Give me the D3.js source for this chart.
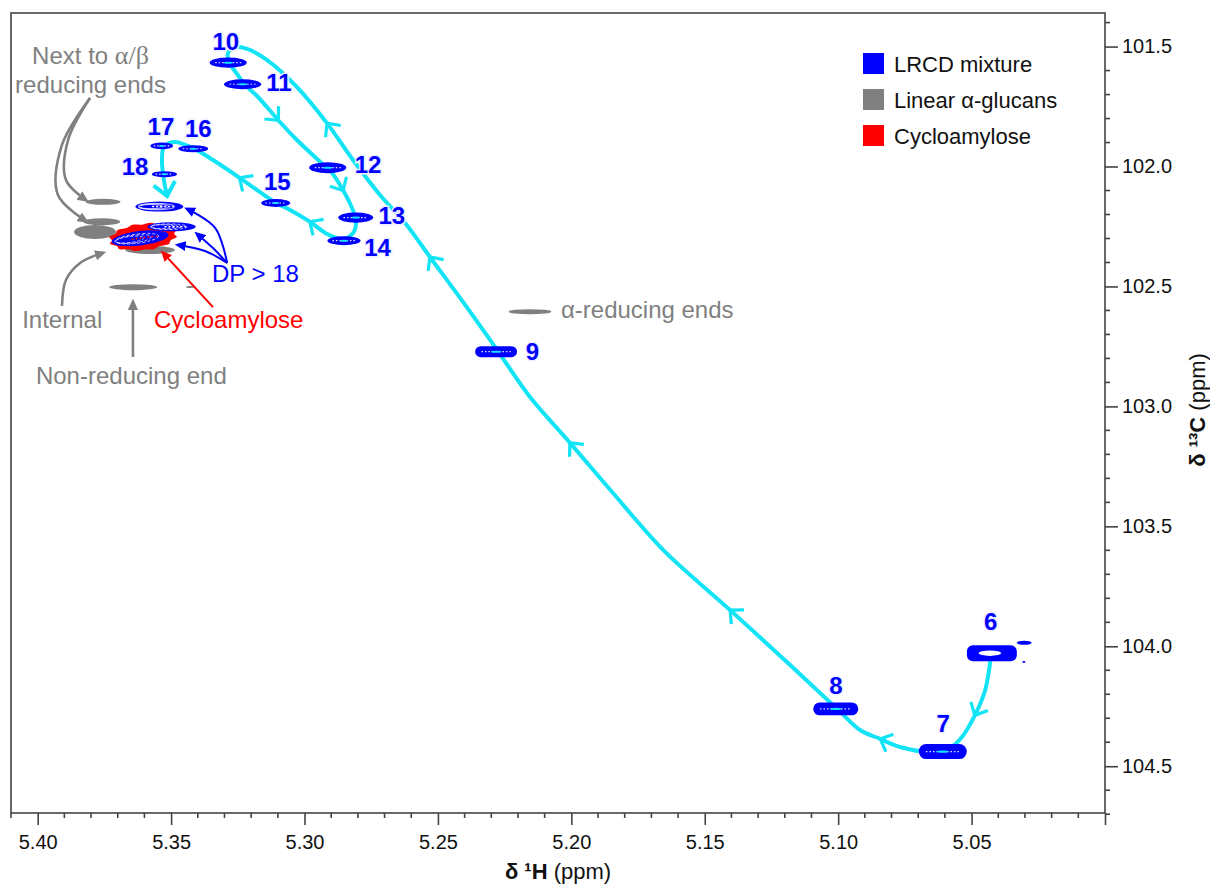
<!DOCTYPE html>
<html>
<head>
<meta charset="utf-8">
<script src="https://cdn.jsdelivr.net/npm/d3@7"></script>
<style>
  body { margin: 0; background: #fff; }
  svg { font-family: "Liberation Sans", Arial, sans-serif; }
</style>
</head>
<body>
<svg width="1210" height="884"></svg>
<script>
// ---- data (ppm) ----
var peakLabels = ["6", "7", "8", "9", "10", "11", "12", "13", "14", "15", "16", "17", "18"];
var peakH = [5.0424, 5.0608, 5.1009, 5.2282, 5.3286, 5.3232, 5.2913, 5.2808, 5.2852, 5.3108, 5.3417, 5.3535, 5.3525];
var peakC = [104.029, 104.439, 104.261, 102.772, 101.567, 101.657, 102.005, 102.213, 102.309, 102.152, 101.926, 101.914, 102.032];
var peakWidthH = [0.0187, 0.018, 0.0169, 0.0157, 0.0139, 0.0139, 0.0139, 0.0131, 0.0124, 0.0109, 0.0112, 0.0086, 0.0094];
var peakWidthC = [0.0667, 0.0625, 0.054, 0.046, 0.042, 0.042, 0.046, 0.042, 0.0375, 0.033, 0.029, 0.029, 0.025];
var labelH = [5.0428, 5.0606, 5.1008, 5.2146, 5.3295, 5.3096, 5.2762, 5.2673, 5.2726, 5.3102, 5.3398, 5.3538, 5.3635];
var labelC = [103.897, 104.321, 104.161, 102.772, 101.48, 101.648, 101.991, 102.202, 102.338, 102.06, 101.841, 101.834, 102.001];

// DP > 18 peaks
var dpH = [5.3544, 5.3498, 5.3616];
var dpC = [102.167, 102.251, 102.299];
var dpWidthH = [0.018, 0.018, 0.0215];
var dpWidthC = [0.042, 0.0375, 0.06];

// small extra peaks next to 6
var extraH = [5.0303, 5.0304];
var extraC = [103.985, 104.065];
var extraWidthH = [0.0056, 0.0012];
var extraWidthC = [0.017, 0.008];

// linear alpha-glucans
var glucanH = [5.3755, 5.376, 5.3785, 5.3579, 5.3642, 5.3429, 5.2155];
var glucanC = [102.147, 102.23, 102.273, 102.348, 102.503, 102.502, 102.605];
var glucanWidthH = [0.0131, 0.0139, 0.0157, 0.0187, 0.018, 0.003, 0.016];
var glucanWidthC = [0.025, 0.029, 0.058, 0.033, 0.025, 0.008, 0.021];

// cycloamylose
var cycloH = [5.3605];
var cycloC = [102.294];
var cycloWidthH = [0.026];
var cycloWidthC = [0.115];

// trajectory 6 -> 18 -> DP > 18
var trajectory = [
  [5.0427, 104.036], [5.0449, 104.182], [5.0487, 104.286], [5.0536, 104.378], [5.0581, 104.424],
  [5.0656, 104.44], [5.0768, 104.42], [5.0843, 104.386], [5.0918, 104.349], [5.1, 104.265],
  [5.118, 104.078], [5.1405, 103.849], [5.1656, 103.598], [5.1844, 103.361], [5.2005, 103.152],
  [5.2155, 102.961], [5.2278, 102.765], [5.2398, 102.577], [5.253, 102.377], [5.2623, 102.235],
  [5.2717, 102.119], [5.2818, 101.973], [5.2916, 101.819], [5.3028, 101.669], [5.314, 101.556],
  [5.3215, 101.51], [5.326, 101.502], [5.3287, 101.527], [5.3283, 101.564], [5.3253, 101.614],
  [5.3223, 101.66], [5.3178, 101.706], [5.3099, 101.806], [5.3036, 101.881], [5.2949, 101.973],
  [5.2897, 102.027], [5.2856, 102.098], [5.2822, 102.173], [5.2807, 102.227], [5.2818, 102.277],
  [5.2859, 102.302], [5.2916, 102.281], [5.2979, 102.231], [5.3054, 102.181], [5.3107, 102.152],
  [5.3178, 102.098], [5.3242, 102.048], [5.3343, 101.973], [5.3418, 101.923], [5.3489, 101.898],
  [5.3527, 101.919], [5.3534, 101.981], [5.3527, 102.056], [5.3515, 102.123]
];
var arrowH = [5.0487, 5.0843, 5.1405, 5.2005, 5.253, 5.2916, 5.3099, 5.2856, 5.2979, 5.3242];
var arrowC = [104.286, 104.386, 103.849, 103.152, 102.377, 101.819, 101.806, 102.098, 102.231, 102.048];

// annotation callouts
var annText = ["Internal", "Non-reducing end", "Cycloamylose", "DP > 18", "\u03b1-reducing ends"];
var annH = [5.3908, 5.3649, 5.3284, 5.3184, 5.2039];
var annC = [102.673, 102.907, 102.673, 102.48, 102.633];
var annKind = ["gray", "gray", "red", "blue", "gray"];
var annAnchor = ["middle", "middle", "middle", "middle", "start"];
var calloutKind = ["gray", "gray", "gray", "gray", "red", "blue", "blue", "blue"];
var callouts = [
  [[5.3804, 101.714], [5.3886, 101.889], [5.3894, 102.056], [5.3819, 102.14]],
  [[5.3804, 101.714], [5.3909, 101.91], [5.3924, 102.119], [5.3819, 102.227]],
  [[5.3909, 102.581], [5.3894, 102.473], [5.3841, 102.402], [5.3755, 102.36]],
  [[5.3643, 102.794], [5.3643, 102.565]],
  [[5.3343, 102.586], [5.353, 102.36]],
  [[5.329, 102.402], [5.3335, 102.256], [5.344, 102.177]],
  [[5.329, 102.402], [5.3343, 102.34], [5.3403, 102.281]],
  [[5.329, 102.402], [5.3373, 102.352], [5.3474, 102.327]]
];

var legendNames = ["LRCD mixture", "Linear \u03b1-glucans", "Cycloamylose"];
var legendColors = ["#0000ff", "#808080", "#ff0000"];

var xTicks = [5.40, 5.35, 5.30, 5.25, 5.20, 5.15, 5.10, 5.05, 5.00];
var yTicks = [101.5, 102.0, 102.5, 103.0, 103.5, 104.0, 104.5];

// ---- chart ----
var svg = d3.select("svg");
var frame = {left: 11, right: 1105, top: 13, bottom: 813};
var colors = {gray: "#808080", red: "#ff0000", blue: "#0000ff"};
var cyan = "#12e4f6";

var x = d3.scaleLinear().domain([5.41, 5.00]).range([frame.left, frame.right]);
var y = d3.scaleLinear().domain([101.36, 104.695]).range([frame.top, frame.bottom]);

var defs = svg.append("defs");
["gray", "red", "blue"].forEach(function(k) {
  defs.append("marker")
      .attr("id", "head-" + k)
      .attr("viewBox", "0 0 10 10")
      .attr("refX", 7).attr("refY", 5)
      .attr("markerWidth", k == "gray" ? 4.4 : 5.5)
      .attr("markerHeight", k == "gray" ? 4.4 : 5.5)
      .attr("orient", "auto")
    .append("path")
      .attr("d", "M0,0.5 L10,5 L0,9.5 z")
      .attr("fill", colors[k]);
});

// frame
svg.append("rect")
    .attr("x", frame.left).attr("y", frame.top)
    .attr("width", frame.right - frame.left).attr("height", frame.bottom - frame.top)
    .attr("fill", "none").attr("stroke", "#444").attr("stroke-width", 1.6);

// bottom axis
var gx = svg.append("g").attr("transform", "translate(0," + frame.bottom + ")");
gx.call(d3.axisBottom(x).tickValues(xTicks).tickSize(12).tickPadding(10)
    .tickFormat(function(d) { return d < 5.001 ? "" : d3.format(".2f")(d); }));
var xMinor = d3.range(0, 42).map(function(i) { return +(5.00 + i * 0.01).toFixed(2); })
    .filter(function(d, i) { return i % 5 != 0; });
gx.selectAll(".minor").data(xMinor).enter().append("line")
    .attr("class", "minor")
    .attr("x1", function(d) { return x(d); }).attr("x2", function(d) { return x(d); })
    .attr("y1", 0).attr("y2", 5);

// right axis
var gy = svg.append("g").attr("transform", "translate(" + frame.right + ",0)");
gy.call(d3.axisRight(y).tickValues(yTicks).tickSize(13).tickPadding(4).tickFormat(d3.format(".1f")));
var yMinor = d3.range(0, 34).map(function(i) { return +(101.4 + i * 0.1).toFixed(1); })
    .filter(function(d) { return Math.abs(d * 2 - Math.round(d * 2)) > 0.01; });
gy.selectAll(".minor").data(yMinor).enter().append("line")
    .attr("class", "minor")
    .attr("y1", function(d) { return y(d); }).attr("y2", function(d) { return y(d); })
    .attr("x1", 0).attr("x2", 5);

[gx, gy].forEach(function(g) {
  g.select(".domain").remove();
  g.selectAll("line").attr("stroke", "#444").attr("stroke-width", 1.6);
  g.selectAll("text").attr("fill", "#111").style("font-size", "20px")
      .style("font-family", "'Liberation Sans', Arial, sans-serif");
});

// axis titles
var tx = svg.append("text")
    .attr("x", (frame.left + frame.right) / 2).attr("y", 879)
    .attr("text-anchor", "middle").style("font-size", "22px").attr("fill", "#111");
tx.append("tspan").attr("font-weight", "bold").text("\u03b4 \u00b9H");
tx.append("tspan").text(" (ppm)");

var ty = svg.append("text")
    .attr("transform", "translate(1205,410) rotate(-90)")
    .attr("text-anchor", "middle").style("font-size", "22px").attr("fill", "#111");
ty.append("tspan").attr("font-weight", "bold").text("\u03b4 \u00b9\u00b3C");
ty.append("tspan").text(" (ppm)");

var plot = svg.append("g");

function rx(h, w) { return Math.abs(x(h + w / 2) - x(h - w / 2)) / 2; }
function ry(c, w) { return Math.abs(y(c + w / 2) - y(c - w / 2)) / 2; }

// linear glucans (gray)
plot.selectAll(".glucan").data(glucanH).enter().append("ellipse")
    .attr("cx", function(d) { return x(d); })
    .attr("cy", function(d, i) { return y(glucanC[i]); })
    .attr("rx", function(d, i) { return rx(d, glucanWidthH[i]); })
    .attr("ry", function(d, i) { return ry(glucanC[i], glucanWidthC[i]); })
    .attr("fill", "#808080");

// cycloamylose (red), scalloped outline
var scallop = d3.lineRadial().curve(d3.curveCardinalClosed);
cycloH.forEach(function(h, i) {
  var a = rx(h, cycloWidthH[i]), b = ry(cycloC[i], cycloWidthC[i]);
  var pts = d3.range(0, 24).map(function(j) {
    var t = j / 24 * 2 * Math.PI, bump = j % 2 ? 1 : 0.9;
    return [t, bump];
  });
  plot.append("path")
      .attr("d", scallop.angle(function(d) { return d[0]; }).radius(function(d) { return d[1]; })(pts))
      .attr("transform", "translate(" + x(h) + "," + y(cycloC[i]) + ") rotate(-6) scale(" + a + "," + b + ")")
      .attr("fill", "#ff0000");
});

// trajectory line
var line = d3.line()
    .x(function(d) { return x(d[0]); })
    .y(function(d) { return y(d[1]); })
    .curve(d3.curveCatmullRom.alpha(0.5));
var traj = plot.append("path")
    .datum(trajectory)
    .attr("d", line)
    .attr("fill", "none")
    .attr("stroke", cyan)
    .attr("stroke-width", 4)
    .attr("stroke-linecap", "round");

// chevron arrows along trajectory
var node = traj.node(), total = node.getTotalLength();
var samples = d3.range(0, total, 1).map(function(l) { var p = node.getPointAtLength(l); return {l: l, x: p.x, y: p.y}; });
function chevron(px, py, ang, len, spread, width) {
  var a1 = ang + Math.PI - spread, a2 = ang + Math.PI + spread;
  plot.append("path")
      .attr("d", "M" + (px + len * Math.cos(a1)) + "," + (py + len * Math.sin(a1)) +
                 "L" + px + "," + py +
                 "L" + (px + len * Math.cos(a2)) + "," + (py + len * Math.sin(a2)))
      .attr("fill", "none").attr("stroke", cyan).attr("stroke-width", width)
      .attr("stroke-linejoin", "miter").attr("stroke-linecap", "butt");
}
arrowH.forEach(function(h, i) {
  var px = x(h), py = y(arrowC[i]);
  var best = samples[d3.minIndex(samples, function(s) { return (s.x - px) * (s.x - px) + (s.y - py) * (s.y - py); })];
  var p0 = node.getPointAtLength(Math.max(0, best.l - 3)), p1 = node.getPointAtLength(Math.min(total, best.l + 3));
  chevron(best.x, best.y, Math.atan2(p1.y - p0.y, p1.x - p0.x), 14, 0.75, 3.2);
});
var pe = node.getPointAtLength(total), pb = node.getPointAtLength(total - 6);
chevron(pe.x, pe.y, Math.atan2(pe.y - pb.y, pe.x - pb.x), 17, 0.7, 4);

// blue peaks
function drawPeak(cx, cy, a, b, shape) {
  var g = plot.append("g");
  if (shape == "rect") {
    g.append("rect").attr("x", cx - a).attr("y", cy - b).attr("width", 2 * a).attr("height", 2 * b)
        .attr("rx", 6).attr("fill", "#0000ff");
    g.append("ellipse").attr("cx", cx - 2).attr("cy", cy).attr("rx", a * 0.45).attr("ry", b * 0.33).attr("fill", "#fff");
    return;
  }
  if (shape == "pill") {
    g.append("rect").attr("x", cx - a).attr("y", cy - b).attr("width", 2 * a).attr("height", 2 * b)
        .attr("rx", b).attr("fill", "#0000ff");
  } else {
    g.append("ellipse").attr("cx", cx).attr("cy", cy).attr("rx", a).attr("ry", b).attr("fill", "#0000ff");
  }
  g.append("line").attr("x1", cx - a * 0.7).attr("x2", cx + a * 0.7).attr("y1", cy).attr("y2", cy)
      .attr("stroke", "#dfe6ff").attr("stroke-width", 1.2).attr("stroke-dasharray", "1.5,2");
  g.append("ellipse").attr("cx", cx).attr("cy", cy).attr("rx", a * 0.25).attr("ry", Math.max(1, b * 0.16))
      .attr("fill", cyan);
}
peakH.forEach(function(h, i) {
  var lab = peakLabels[i];
  var shape = lab == "6" ? "rect" : (lab == "7" || lab == "8" || lab == "9") ? "pill" : "ellipse";
  drawPeak(x(h), y(peakC[i]), rx(h, peakWidthH[i]), ry(peakC[i], peakWidthC[i]), shape);
});
extraH.forEach(function(h, i) {
  plot.append("ellipse").attr("cx", x(h)).attr("cy", y(extraC[i]))
      .attr("rx", rx(h, extraWidthH[i])).attr("ry", ry(extraC[i], extraWidthC[i])).attr("fill", "#0000ff");
});

// DP > 18 contours
dpH.forEach(function(h, i) {
  var cx = x(h), cy = y(dpC[i]), a = rx(h, dpWidthH[i]), b = ry(dpC[i], dpWidthC[i]);
  var g = plot.append("g").attr("transform", "rotate(" + (i == 2 ? -7 : 0) + "," + cx + "," + cy + ")");
  g.append("ellipse").attr("cx", cx).attr("cy", cy).attr("rx", a).attr("ry", b).attr("fill", "#0000ff");
  [0.85, 0.7, 0.55].forEach(function(f) {
    g.append("ellipse").attr("cx", cx - a * (1 - f) * 0.8).attr("cy", cy).attr("rx", a * f * 0.9).attr("ry", b * f * 0.75)
        .attr("fill", "none").attr("stroke", "#fff").attr("stroke-width", 0.7)
        .attr("stroke-dasharray", i == 0 ? null : "3,2");
  });
  g.append("line").attr("x1", cx - a * 0.3).attr("x2", cx + a * 0.6).attr("y1", cy).attr("y2", cy)
      .attr("stroke", i == 2 ? "#ff0000" : "#fff").attr("stroke-width", 1.5).attr("stroke-dasharray", "2,2");
});

// peak labels
plot.selectAll(".plabel").data(peakLabels).enter().append("text")
    .attr("x", function(d, i) { return x(labelH[i]); })
    .attr("y", function(d, i) { return y(labelC[i]); })
    .attr("dy", "0.36em")
    .attr("text-anchor", "middle")
    .attr("font-weight", "bold")
    .style("font-size", "24px")
    .attr("fill", "#0000ff")
    .attr("stroke", "#eef0ff").attr("stroke-width", 3).attr("paint-order", "stroke")
    .text(function(d) { return d; });

// callout arrows
var cline = d3.line()
    .x(function(d) { return x(d[0]); })
    .y(function(d) { return y(d[1]); })
    .curve(d3.curveCatmullRom.alpha(0.5));
callouts.forEach(function(pts, i) {
  var k = calloutKind[i];
  plot.append("path")
      .attr("d", cline(pts))
      .attr("fill", "none")
      .attr("stroke", colors[k])
      .attr("stroke-width", k == "gray" ? 2.6 : 2)
      .attr("marker-end", "url(#head-" + k + ")");
});

// annotation texts
annText.forEach(function(t, i) {
  plot.append("text")
      .attr("x", x(annH[i])).attr("y", y(annC[i]))
      .attr("text-anchor", annAnchor[i])
      .style("font-size", "24px")
      .attr("fill", colors[annKind[i]])
      .text(t);
});
var nt = plot.append("text")
    .attr("x", x(5.3802)).attr("y", y(101.573))
    .attr("text-anchor", "middle").style("font-size", "24px").attr("fill", "#808080");
nt.append("tspan").text("Next to ");
nt.append("tspan").style("font-family", "'Liberation Serif', 'Times New Roman', serif").style("font-size", "26px").text("\u03b1/\u03b2");
plot.append("text")
    .attr("x", x(5.3802)).attr("y", y(101.692))
    .attr("text-anchor", "middle").style("font-size", "24px").attr("fill", "#808080")
    .text("reducing ends");

// legend
var lg = svg.append("g").attr("transform", "translate(863,53)");
legendNames.forEach(function(n, i) {
  lg.append("rect").attr("x", 0).attr("y", i * 36).attr("width", 21).attr("height", 21)
      .attr("fill", legendColors[i]);
  lg.append("text").attr("x", 31).attr("y", i * 36 + 19)
      .style("font-size", "22px").attr("fill", "#111").text(n);
});
</script>
</body>
</html>
